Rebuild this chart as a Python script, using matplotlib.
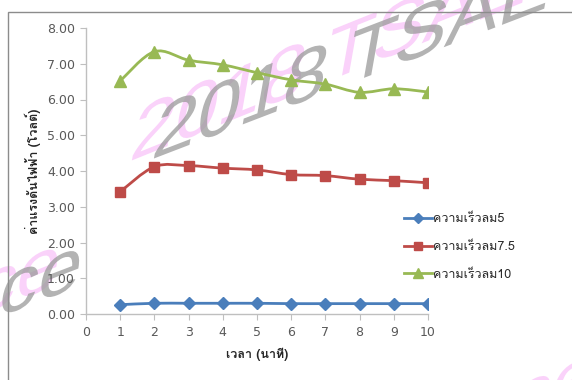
import matplotlib
matplotlib.use("Agg")
import matplotlib.pyplot as plt
from matplotlib import font_manager
from matplotlib.ft2font import FT2Font
from matplotlib.path import Path
from matplotlib.patches import PathPatch, Rectangle
from matplotlib.lines import Line2D
from matplotlib.ticker import FormatStrFormatter, MultipleLocator
from matplotlib.textpath import TextPath
from matplotlib.font_manager import FontProperties
from matplotlib.transforms import Affine2D

# ---------------- data ----------------
minutes = [1, 2, 3, 4, 5, 6, 7, 8, 9, 10]
wind5 = [0.26, 0.30, 0.30, 0.30, 0.30, 0.29, 0.29, 0.29, 0.29, 0.29]
wind75 = [3.42, 4.12, 4.15, 4.08, 4.03, 3.90, 3.87, 3.77, 3.73, 3.67]
wind10 = [6.52, 7.34, 7.10, 6.97, 6.75, 6.55, 6.43, 6.20, 6.30, 6.21]
series_names = ["ความเร็วลม5", "ความเร็วลม7.5", "ความเร็วลม10"]
x_label = "เวลา (นาที)"
y_label = "ค่าแรงดันไฟฟ้า (โวลต์)"
watermark = "2018 TSAE Conference"
watermark_tail = "ce"

# ---------------- fonts ----------------
def find_thai_fonts():
    names = []
    for f in font_manager.fontManager.ttflist:
        try:
            ft = FT2Font(f.fname)
            if ft.get_char_index(ord("ค")) and ft.get_char_index(ord("ไ")):
                if f.name not in names:
                    names.append(f.name)
        except Exception:
            pass
    return names

thai = find_thai_fonts()
families = (thai[:1] if thai else []) + ["DejaVu Sans"]
plt.rcParams["font.family"] = families

W, H = 572, 380
fig = plt.figure(figsize=(W / 100, H / 100), dpi=100)

def fx(px):
    return px / W

def fy(py):
    return 1 - py / H

# chart frame
fig.patches.append(Rectangle((fx(8), -0.2), 1.5, fy(12) + 0.2, transform=fig.transFigure,
                             fill=False, edgecolor="#8c8c8c", lw=1.0))

ax = fig.add_axes([fx(86), fy(314), fx(428) - fx(86), fy(28) - fy(314)])
ax.set_xlim(0, 10)
ax.set_ylim(0, 8)
ax.patch.set_alpha(0)
for s in ["top", "right"]:
    ax.spines[s].set_visible(False)
for s in ["left", "bottom"]:
    ax.spines[s].set_color("#bfbfbf")
    ax.spines[s].set_linewidth(1.0)
ax.xaxis.set_major_locator(MultipleLocator(1))
ax.yaxis.set_major_locator(MultipleLocator(1))
ax.yaxis.set_major_formatter(FormatStrFormatter("%.2f"))
ax.tick_params(direction="out", length=4, color="#bfbfbf", labelcolor="#595959",
               labelsize=9)
ax.tick_params(axis="x", pad=5)
ax.tick_params(axis="y", pad=4)
for lab in ax.get_xticklabels() + ax.get_yticklabels():
    lab.set_family("DejaVu Sans")

ax.set_xlabel(x_label, fontsize=9, fontweight="bold", color="#262626", labelpad=6)
ax.set_ylabel(y_label, fontsize=9, fontweight="bold", color="#262626", labelpad=4)


def smooth_path(xs, ys):
    pts = list(zip(xs, ys))
    n = len(pts)
    verts = [pts[0]]
    codes = [Path.MOVETO]
    for i in range(n - 1):
        p0 = pts[i - 1] if i > 0 else pts[i]
        p1 = pts[i]
        p2 = pts[i + 1]
        p3 = pts[i + 2] if i + 2 < n else pts[i + 1]
        c1 = (p1[0] + (p2[0] - p0[0]) / 6, p1[1] + (p2[1] - p0[1]) / 6)
        c2 = (p2[0] - (p3[0] - p1[0]) / 6, p2[1] - (p3[1] - p1[1]) / 6)
        verts += [c1, c2, p2]
        codes += [Path.CURVE4] * 3
    return Path(verts, codes)


styles = [
    (wind5, "#4a7ebb", "D", 6),
    (wind75, "#be4b48", "s", 7.5),
    (wind10, "#98b954", "^", 8.5),
]
handles = []
for (vals, col, mk, ms), name in zip(styles, series_names):
    ax.add_patch(PathPatch(smooth_path(minutes, vals), fill=False, edgecolor=col,
                           lw=2.0, transform=ax.transData, zorder=3))
    ax.plot(minutes, vals, linestyle="none", marker=mk, markersize=ms, color=col,
            markeredgecolor=col, zorder=4)
    handles.append(Line2D([], [], color=col, lw=2.0, marker=mk, markersize=ms * 0.8,
                          markeredgecolor=col))

leg = fig.legend(handles, series_names, loc="center left",
                 bbox_to_anchor=(fx(404), fy(247)), frameon=False, fontsize=9,
                 handlelength=2.2, handletextpad=0.1, labelspacing=1.25,
                 borderpad=0, borderaxespad=0)
for t in leg.get_texts():
    t.set_color("#262626")

# ---------------- watermark (sheared text, behind the plot) ----------------
wm_prop = FontProperties(family=["Liberation Sans", "DejaVu Sans"])

def add_wm(text, x_px, y_px, color, alpha, em=78, lean=10, rise=21, z=-2):
    tp = TextPath((0, 0), text, size=em, prop=wm_prop)
    tr = Affine2D().skew_deg(lean, rise).translate(x_px, H - y_px)
    fig.add_artist(PathPatch(tp, transform=tr, facecolor=color, edgecolor="none",
                             alpha=alpha, zorder=z))

pink, gray = "#f7b4f7", "#9a9a9a"
add_wm(watermark, 128, 162, pink, 0.6, rise=22, z=-3)
add_wm(watermark, 150, 160, gray, 0.75, rise=21, z=-2)
add_wm(watermark_tail, -26, 318, pink, 0.6, rise=22, z=-3)
add_wm(watermark_tail, -4, 318, gray, 0.75, rise=21, z=-2)
add_wm(watermark_tail, 508, 428, pink, 0.6, rise=22, z=-3)

fig.savefig("out.png", dpi=100)
